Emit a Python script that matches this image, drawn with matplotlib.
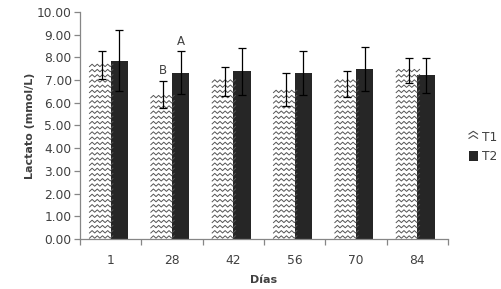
import numpy as np
import matplotlib
matplotlib.use('Agg')
import matplotlib.pyplot as plt
from matplotlib.lines import Line2D
from matplotlib.patches import Patch
from matplotlib.transforms import IdentityTransform
from matplotlib.legend_handler import HandlerBase

# data
days = ['1', '28', '42', '56', '70', '84']
t1 = [7.67, 6.37, 6.93, 6.59, 6.83, 7.44]
t1_err = [0.60, 0.60, 0.64, 0.72, 0.57, 0.55]
t2 = [7.85, 7.33, 7.38, 7.30, 7.49, 7.21]
t2_err = [1.35, 0.95, 1.02, 0.97, 0.97, 0.77]
letters = {1: ('B', 'A')}  # index of day -> (T1 letter, T2 letter)

txt = '#404040'
plt.rcParams['font.family'] = 'DejaVu Sans'

fig = plt.figure(figsize=(5.01, 2.89), dpi=100)
ax = fig.add_axes([80 / 501, 1 - 239 / 289, 368 / 501, 227 / 289])

x = np.arange(len(days))
w = 0.28
ax.set_xlim(-0.5, len(days) - 0.5)
ax.set_ylim(0, 10)

bars1 = ax.bar(x - w / 2, t1, w, color='white', edgecolor='none', zorder=2)
bars2 = ax.bar(x + w / 2, t2, w, color='#262626', edgecolor='none', zorder=2)


def zigzag_fill(ax, rect):
    # wavy texture clipped to the bar
    bx, by = rect.get_x(), rect.get_y()
    (x0, y0), (x1, y1) = ax.transData.transform([[bx, by], [bx + rect.get_width(), by + rect.get_height()]])
    step = 2.6
    for row in np.arange(y0 + 2, y1 + 3, 5.2):
        xs = np.arange(x0 - 4, x1 + 4, step)
        ys = row + np.where(np.arange(len(xs)) % 2 == 0, -1.2, 1.2)
        ln = Line2D(xs, ys, color='#555555', lw=0.7, zorder=2.5)
        ln.set_transform(IdentityTransform())
        ln.set_clip_path(rect)
        ax.add_artist(ln)


for r in bars1:
    zigzag_fill(ax, r)

ax.errorbar(x - w / 2, t1, yerr=t1_err, fmt='none', ecolor='black', elinewidth=0.9, capsize=3, capthick=0.9, zorder=3)
ax.errorbar(x + w / 2, t2, yerr=t2_err, fmt='none', ecolor='black', elinewidth=0.9, capsize=3, capthick=0.9, zorder=3)

for i, (l1, l2) in letters.items():
    ax.annotate(l1, xy=(x[i] - w / 2, t1[i] + t1_err[i]), xytext=(0, 2.5), textcoords='offset points',
                ha='center', va='bottom', fontsize=8.5, color=txt)
    ax.annotate(l2, xy=(x[i] + w / 2, t2[i] + t2_err[i]), xytext=(0, 2.5), textcoords='offset points',
                ha='center', va='bottom', fontsize=8.5, color=txt)

# axes styling
for s in ['top', 'right']:
    ax.spines[s].set_visible(False)
for s in ['left', 'bottom']:
    ax.spines[s].set_color('#868686')
    ax.spines[s].set_linewidth(0.9)

ax.set_yticks(np.arange(0, 11, 1))
ax.set_yticklabels(['%.2f' % v for v in np.arange(0, 11, 1)])
ax.tick_params(axis='y', length=4, width=0.9, color='#868686', labelsize=8.8, labelcolor=txt, pad=2)
ax.set_xticks(x)
ax.set_xticklabels(days)
ax.set_xticks(np.arange(-0.5, len(days), 1), minor=True)
ax.tick_params(axis='x', which='major', length=0, labelsize=8.8, labelcolor=txt, pad=11)
ax.tick_params(axis='x', which='minor', length=4, width=0.9, color='#868686')

ax.set_ylabel('Lactato (mmol/L)', fontsize=8, fontweight='bold', color=txt)
ax.yaxis.set_label_coords(-0.122, 0.5)
ax.set_xlabel('Días', fontsize=8, fontweight='bold', color=txt)
ax.xaxis.set_label_coords(0.5, -0.16)


class ZigHandler(HandlerBase):
    def create_artists(self, legend, orig_handle, xdescent, ydescent, width, height, fontsize, trans):
        out = []
        for yy in (0.25, 0.7):
            xs = np.linspace(0, width, 3)
            ys = height * (yy + np.array([0, 0.3, 0]))
            out.append(Line2D(xs, ys, color='#4a4a4a', lw=0.8, transform=trans))
        return out


h1 = Patch(facecolor='white')
h2 = Patch(facecolor='#262626')
ax.legend([h1, h2], ['T1', 'T2'], handler_map={h1: ZigHandler()}, loc='center left',
          bbox_to_anchor=(458 / 501, 1 - 147 / 289), bbox_transform=fig.transFigure, frameon=False,
          fontsize=8.8, labelcolor=txt, handlelength=0.7, handleheight=0.8, handletextpad=0.4,
          labelspacing=0.55)

fig.savefig('out.png', dpi=100)
